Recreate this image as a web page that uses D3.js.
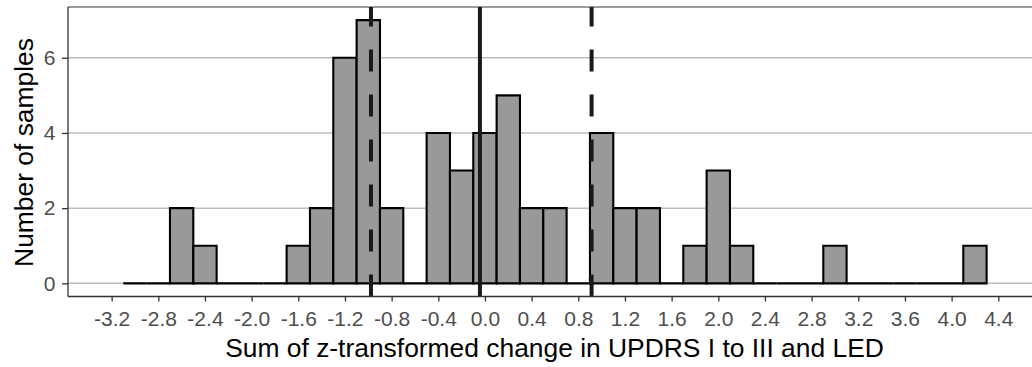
<!DOCTYPE html>
<html>
<head>
<meta charset="utf-8">
<script src="https://cdn.jsdelivr.net/npm/d3@7"></script>
<style>
  html, body { margin: 0; padding: 0; background: #fff; }
  svg { display: block; }
  text { font-family: "Liberation Sans", Arial, sans-serif; }
</style>
</head>
<body>
<svg id="chart" width="1032" height="367"></svg>
<script>
// ---- data ----
const binStart = -3.1;
const binWidth = 0.2;
const counts = [0, 0, 2, 1, 0, 0, 0, 1, 2, 6, 7, 2, 0, 4, 3, 4, 5, 2, 2, 0, 4, 2, 2, 0, 1, 3, 1, 0, 0, 0, 1, 0, 0, 0, 0, 0, 1];
const meanLine = [-0.043];
const sdLines = [-0.977, 0.914];
const xTicks = [-3.2, -2.8, -2.4, -2.0, -1.6, -1.2, -0.8, -0.4, 0.0, 0.4, 0.8, 1.2, 1.6, 2.0, 2.4, 2.8, 3.2, 3.6, 4.0, 4.4];
const yTicks = [0, 2, 4, 6];
const xTitle = "Sum of z-transformed change in UPDRS I to III and LED";
const yTitle = "Number of samples";

// ---- layout ----
const svg = d3.select("#chart");
const L = 68, R = 1032, T = 7, B = 296.5;
const x = d3.scaleLinear().domain([-3.574, 4.689]).range([L, R]);
const y = d3.scaleLinear().domain([-0.35, 7.35]).range([B, T]);

const bins = counts.map((c, i) => ({ x0: binStart + i * binWidth, x1: binStart + (i + 1) * binWidth, n: c }));

// gridlines
svg.append("g").selectAll("line").data(yTicks).join("line")
  .attr("x1", L).attr("x2", R)
  .attr("y1", d => y(d)).attr("y2", d => y(d))
  .attr("stroke", "#bdbdbd").attr("stroke-width", 1.5);

// top border
svg.append("line").attr("x1", L).attr("x2", R).attr("y1", T).attr("y2", T)
  .attr("stroke", "#7a7a7a").attr("stroke-width", 1.3);

// bars
svg.append("g").selectAll("path").data(bins).join("path")
  .attr("d", d => {
    const x0 = x(d.x0), x1 = x(d.x1), y0 = y(0), y1 = y(d.n);
    return `M${x0},${y0}V${y1}H${x1}V${y0}Z`;
  })
  .attr("fill", "#999999").attr("stroke", "#000").attr("stroke-width", 2.1)
  .attr("stroke-linejoin", "miter");

// vertical lines
svg.append("g").selectAll("line").data(sdLines).join("line")
  .attr("x1", d => x(d)).attr("x2", d => x(d))
  .attr("y1", B).attr("y2", T)
  .attr("stroke", "#1a1a1a").attr("stroke-width", 4)
  .attr("stroke-dasharray", "22 23");
svg.append("g").selectAll("line").data(meanLine).join("line")
  .attr("x1", d => x(d)).attr("x2", d => x(d))
  .attr("y1", B).attr("y2", T)
  .attr("stroke", "#1a1a1a").attr("stroke-width", 4);

// axes
const fmtX = d => d3.format(".1f")(d).replace("\u2212", "-");
const xAxis = svg.append("g").attr("transform", `translate(0,${B})`)
  .call(d3.axisBottom(x).tickValues(xTicks).tickFormat(fmtX).tickSize(5).tickPadding(10).tickSizeOuter(0));
const yAxis = svg.append("g").attr("transform", `translate(${L},0)`)
  .call(d3.axisLeft(y).tickValues(yTicks).tickFormat(d3.format("d")).tickSize(6).tickPadding(6.5).tickSizeOuter(0));

[xAxis, yAxis].forEach(g => {
  g.select(".domain").attr("stroke", "#333").attr("stroke-width", 1.3);
  g.selectAll(".tick line").attr("stroke", "#333").attr("stroke-width", 1.3);
  g.selectAll(".tick text").attr("fill", "#4d4d4d").style("font-size", "21px")
    .style("font-family", "'Liberation Sans', Arial, sans-serif");
});
xAxis.select(".domain").attr("d", `M${L},0H${R}`);
yAxis.select(".domain").attr("d", `M0,${T}V${B}`);

// titles
svg.append("text").attr("x", 554.5).attr("y", 357).attr("text-anchor", "middle")
  .style("font-size", "26.4px").attr("fill", "#000").text(xTitle);
svg.append("text").attr("transform", "translate(33,152.5) rotate(-90)").attr("text-anchor", "middle")
  .style("font-size", "26.4px").attr("fill", "#000").text(yTitle);
</script>
</body>
</html>
